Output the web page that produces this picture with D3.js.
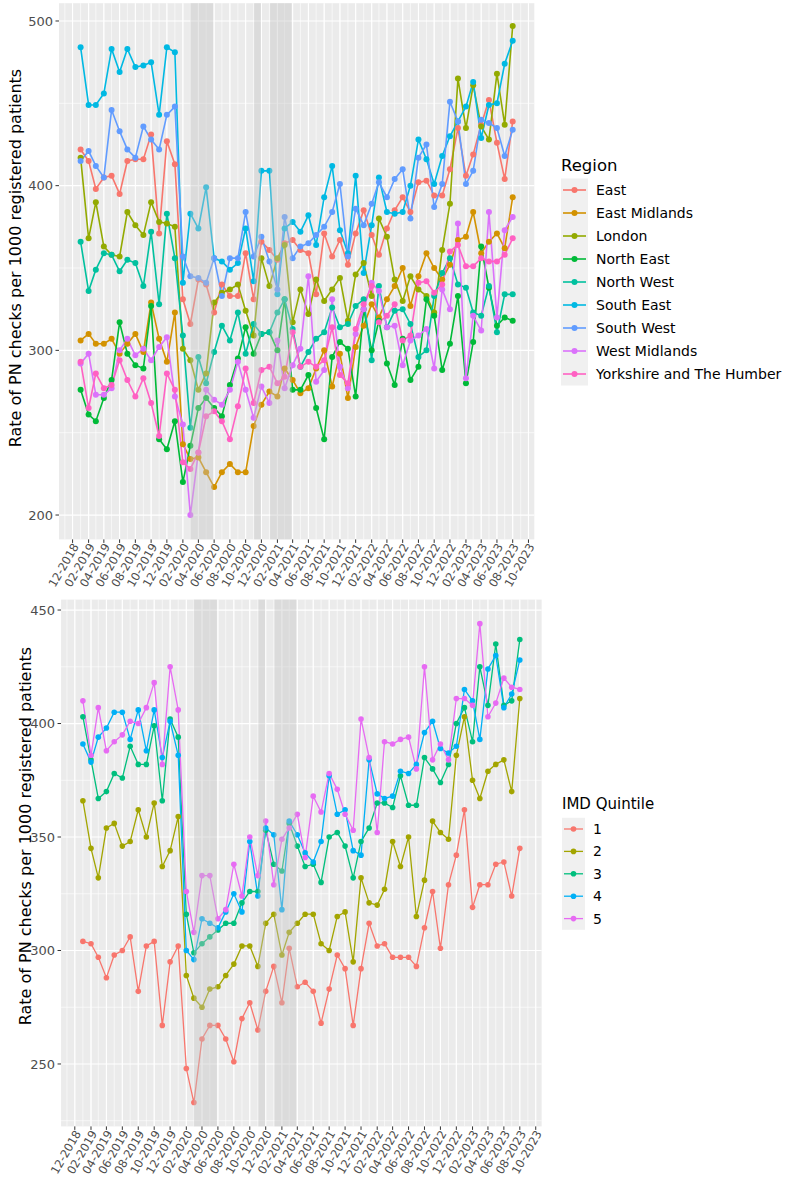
<!DOCTYPE html>
<html>
<head>
<meta charset="utf-8">
<script src="https://cdn.jsdelivr.net/npm/d3@7"></script>
<style>
  body { margin: 0; background: #fff; }
  text { font-family: "DejaVu Sans", sans-serif; }
</style>
</head>
<body>
<div id="chart"></div>
<script>
// monthly points, Jan 2019 .. Aug 2023
var months = d3.timeMonths(new Date(2019, 0, 1), new Date(2023, 8, 1));

var regions = ["East", "East Midlands", "London", "North East", "North West",
  "South East", "South West", "West Midlands", "Yorkshire and The Humber"];
var regionColors = ["#F8766D", "#D39200", "#93AA00", "#00BA38", "#00C19F",
  "#00B9E3", "#619CFF", "#DB72FB", "#FF61C3"];

var east = [422,415,398,405,406,395,415,416,416,431,371,427,413,331,316,343,340,323,340,333,333,359,331,366,361,355,365,367,361,359,334,371,357,367,352,371,385,370,358,374,385,393,384,402,403,394,394,410,435,406,419,437,452,426,404,439];
var eastMidlands = [306,310,304,304,307,298,304,310,299,329,307,293,323,243,234,235,226,217,226,231,226,226,254,267,275,272,289,282,274,277,289,300,278,298,271,302,315,328,320,331,339,350,327,345,359,350,343,352,367,369,384,359,366,371,362,393];
var london = [417,368,390,363,358,357,384,376,370,390,378,377,375,301,294,276,286,329,335,337,340,324,309,356,339,356,364,317,337,322,343,330,337,344,318,346,353,333,380,369,343,330,345,337,333,323,361,389,465,435,461,436,428,468,437,497];
var northEast = [276,261,257,271,282,317,298,291,289,327,246,240,257,220,242,265,271,265,260,279,295,314,298,310,311,300,331,276,276,285,265,246,296,305,301,272,325,300,318,292,279,307,282,290,331,321,288,304,333,280,305,363,338,315,320,318];
var northWest = [366,336,349,359,358,348,355,353,339,372,328,383,356,309,253,296,280,299,315,306,323,298,316,310,311,323,331,313,290,299,307,311,326,314,316,327,331,294,339,314,324,325,316,296,300,333,347,356,340,338,323,321,339,311,334,334];
var southEast = [484,449,449,456,483,469,483,472,473,475,443,484,481,341,383,374,399,356,354,349,353,374,342,409,409,334,374,378,372,382,364,393,412,373,359,406,347,376,405,384,383,384,400,428,416,401,418,430,439,448,463,429,449,450,474,488];
var southWest = [415,421,412,405,446,433,422,417,436,428,422,443,448,357,345,344,341,356,333,356,356,384,357,369,354,337,381,356,363,365,370,375,384,401,357,386,376,389,402,393,404,410,380,417,425,387,401,451,439,401,409,440,438,435,418,434];
var westMidlands = [292,298,273,273,277,300,307,297,301,294,302,308,272,255,200,238,276,270,267,276,293,276,259,278,268,306,277,291,301,345,281,288,331,290,277,310,325,341,336,314,315,291,306,309,313,289,337,325,377,283,321,312,384,320,373,381];
var yorkshire = [293,265,286,277,279,294,282,272,283,268,248,286,276,232,228,238,260,263,257,246,266,289,268,288,290,280,284,311,290,293,290,294,314,285,280,313,328,339,317,321,328,306,309,341,342,335,340,360,364,351,351,356,354,354,358,368];
var regionValues = [east, eastMidlands, london, northEast, northWest, southEast, southWest, westMidlands, yorkshire];

var quintiles = ["1", "2", "3", "4", "5"];
var quintileColors = ["#F8766D", "#A3A500", "#00BF7D", "#00B0F6", "#E76BF3"];
var q1 = [304,303,297,288,298,300,306,282,302,304,267,295,302,248,233,261,267,267,261,251,270,277,265,282,293,277,301,284,286,282,268,283,298,292,267,292,312,302,303,297,297,297,293,310,326,301,329,342,362,319,329,329,338,339,324,345];
var q2 = [366,345,332,354,356,346,348,362,350,365,337,344,359,289,279,275,283,284,289,294,302,302,293,312,316,298,308,312,316,316,303,300,315,317,295,332,321,320,327,348,337,350,315,331,357,352,349,386,403,375,367,379,382,384,370,411];
var q3 = [403,384,367,370,378,376,390,382,382,399,366,402,394,316,299,303,306,309,312,312,321,326,326,353,338,335,356,346,337,338,330,350,352,346,332,348,354,365,365,363,377,364,364,385,380,374,382,400,407,392,425,408,435,408,410,437];
var q4 = [391,383,394,398,405,405,393,406,388,406,385,401,386,300,296,314,312,310,317,325,317,348,324,354,351,318,357,351,343,339,348,377,360,362,344,342,384,369,367,368,379,378,382,396,401,389,387,390,415,410,393,424,430,407,413,428];
var q5 = [410,386,407,388,392,395,401,400,407,418,382,425,406,326,308,333,333,314,318,338,324,350,333,357,329,349,354,360,341,368,361,378,371,360,353,402,385,352,392,391,393,394,380,425,384,391,384,411,411,408,444,403,409,420,416,415];
var quintileValues = [q1, q2, q3, q4, q5];

// lockdown periods shaded on both panels
var lockdowns = [["2020-03-01", "2020-05-28"], ["2020-11-03", "2020-11-29"], ["2021-01-04", "2021-03-28"]];

var xTickDates = d3.timeMonths(new Date(2018, 11, 1), new Date(2023, 10, 1)).filter(function(d, i) { return i % 2 == 0; });
var topYTicks = [200, 300, 400, 500];
var bottomYTicks = [250, 300, 350, 400, 450];

var yTitle = "Rate of PN checks per 1000 registered patients";
var fmt = d3.timeFormat("%m-%Y");

var svg = d3.select("#chart").append("svg")
  .attr("width", 787)
  .attr("height", 1180);

function drawPanel(o) {
  var x = d3.scaleTime().domain([months[0], months[months.length - 1]]).range(o.xr);
  var y = d3.scaleLinear().domain(o.yd).range(o.yr);
  var pad = (o.xr[1] - o.xr[0]) * 0.05;
  var px0 = o.xr[0] - pad, px1 = o.xr[1] + pad;
  var py0 = o.yr[1], py1 = o.yr[0];
  var g = svg.append("g");

  g.append("rect").attr("x", px0).attr("y", py0)
    .attr("width", px1 - px0).attr("height", py1 - py0).attr("fill", "#EBEBEB");

  // minor grid
  var step = o.yTicks[1] - o.yTicks[0];
  var minorY = o.yTicks.map(function(t) { return t - step / 2; }).concat([o.yTicks[o.yTicks.length - 1] + step / 2])
    .filter(function(v) { return v > o.yd[0] && v < o.yd[1]; });
  g.selectAll(".my").data(minorY).enter().append("line")
    .attr("x1", px0).attr("x2", px1).attr("y1", y).attr("y2", y)
    .attr("stroke", "#fff").attr("stroke-width", 0.6);
  var allMonths = d3.timeMonths(new Date(2018, 9, 1), new Date(2024, 0, 1))
    .filter(function(d) { return x(d) > px0 && x(d) < px1; });
  g.selectAll(".mx").data(allMonths).enter().append("line")
    .attr("x1", x).attr("x2", x).attr("y1", py0).attr("y2", py1)
    .attr("stroke", "#fff").attr("stroke-width", 0.6);
  // major grid
  g.selectAll(".gy").data(o.yTicks).enter().append("line")
    .attr("x1", px0).attr("x2", px1).attr("y1", y).attr("y2", y)
    .attr("stroke", "#fff").attr("stroke-width", 1.2);
  g.selectAll(".gx").data(xTickDates).enter().append("line")
    .attr("x1", x).attr("x2", x).attr("y1", py0).attr("y2", py1)
    .attr("stroke", "#fff").attr("stroke-width", 1.1);

  var line = d3.line().x(function(d, i) { return x(months[i]); }).y(function(d) { return y(d); });
  g.selectAll(".ln").data(o.values).enter().append("path")
    .attr("d", line).attr("fill", "none")
    .attr("stroke", function(d, i) { return o.colors[i]; })
    .attr("stroke-width", o.lw);
  o.values.forEach(function(vals, k) {
    g.selectAll(".pt" + k).data(vals).enter().append("circle")
      .attr("cx", function(d, i) { return x(months[i]); })
      .attr("cy", y).attr("r", o.r).attr("fill", o.colors[k]);
  });

  // lockdown bands over the lines
  g.selectAll(".band").data(lockdowns).enter().append("rect")
    .attr("x", function(d) { return x(new Date(d[0])); })
    .attr("width", function(d) { return x(new Date(d[1])) - x(new Date(d[0])); })
    .attr("y", py0).attr("height", py1 - py0)
    .attr("fill", "#C4C4C4").attr("opacity", 0.4);

  // axes
  g.selectAll(".ty").data(o.yTicks).enter().append("line")
    .attr("x1", px0 - 3.5).attr("x2", px0).attr("y1", y).attr("y2", y)
    .attr("stroke", "#333").attr("stroke-width", 1);
  g.selectAll(".ly").data(o.yTicks).enter().append("text")
    .attr("x", px0 - 6).attr("y", y).attr("dy", "0.35em")
    .attr("text-anchor", "end").attr("font-size", 13).attr("fill", "#4D4D4D")
    .text(function(d) { return d; });
  g.selectAll(".tx").data(xTickDates).enter().append("line")
    .attr("x1", x).attr("x2", x).attr("y1", py1).attr("y2", py1 + 3.5)
    .attr("stroke", "#333").attr("stroke-width", 1);
  g.selectAll(".lx").data(xTickDates).enter().append("text")
    .attr("transform", function(d) { return "translate(" + (x(d) + 3) + "," + (py1 + 5) + ") rotate(-60)"; })
    .attr("text-anchor", "end").attr("dy", "0.35em")
    .attr("font-size", 11.5).attr("fill", "#4D4D4D")
    .text(fmt);

  g.append("text")
    .attr("transform", "translate(" + o.titleX + "," + o.titleY + ") rotate(-90)")
    .attr("text-anchor", "middle").attr("dy", "0.35em")
    .attr("font-size", 16).attr("fill", "#000")
    .text(yTitle);

  // legend
  var lg = svg.append("g");
  lg.append("text").attr("x", o.leg.x).attr("y", o.leg.titleY).attr("dy", "0.35em")
    .attr("font-size", o.leg.titleSize).text(o.leg.title);
  lg.append("rect").attr("x", o.leg.x).attr("y", o.leg.y0 - o.leg.h / 2)
    .attr("width", o.leg.w).attr("height", o.leg.h * o.names.length).attr("fill", "#F0F0F0");
  o.names.forEach(function(nm, i) {
    var cy = o.leg.y0 + i * o.leg.h, cx = o.leg.x + o.leg.w / 2;
    lg.append("line").attr("x1", o.leg.x + 2).attr("x2", o.leg.x + o.leg.w - 2)
      .attr("y1", cy).attr("y2", cy).attr("stroke", o.colors[i]).attr("stroke-width", o.lw);
    lg.append("circle").attr("cx", cx).attr("cy", cy).attr("r", o.r).attr("fill", o.colors[i]);
    lg.append("text").attr("x", o.leg.x + o.leg.w + 8).attr("y", cy).attr("dy", "0.35em")
      .attr("font-size", 14).attr("fill", "#000").text(nm);
  });
}

drawPanel({
  xr: [80.6, 512.7], yd: [185.2, 510.8], yr: [539.4, 3.2], yTicks: topYTicks,
  values: regionValues, colors: regionColors, names: regions, lw: 1.6, r: 3,
  titleX: 15, titleY: 258,
  leg: { x: 561, titleY: 165, title: "Region", titleSize: 16.5, y0: 190, h: 23, w: 27 }
});

drawPanel({
  xr: [82.9, 519.8], yd: [222.5, 454.6], yr: [1126.4, 599.6], yTicks: bottomYTicks,
  values: quintileValues, colors: quintileColors, names: quintiles, lw: 1.3, r: 2.8,
  titleX: 25, titleY: 836,
  leg: { x: 562, titleY: 804, title: "IMD Quintile", titleSize: 15, y0: 829, h: 22.4, w: 23 }
});
</script>
</body>
</html>
